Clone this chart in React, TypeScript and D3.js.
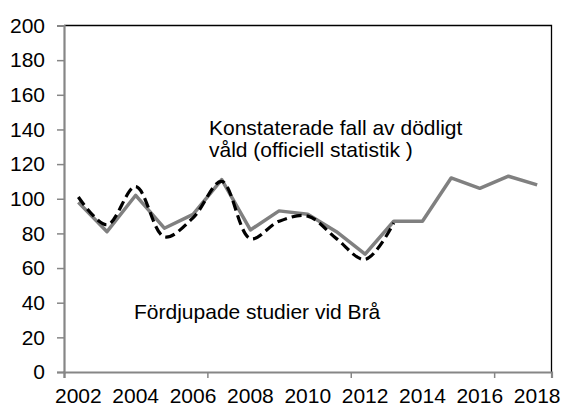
import * as React from 'react';
import * as d3 from 'd3';

const years = ['2002', '2003', '2004', '2005', '2006', '2007', '2008', '2009', '2010',
    '2011', '2012', '2013', '2014', '2015', '2016', '2017', '2018'];
const official = [98, 81, 102, 83, 91, 111, 82, 93, 91, 81, 68, 87, 87, 112, 106, 113, 108];
const bra = [101, 85, 107, 78, 89, 110, 77, 87, 90, 77, 65, 86];
const yTicks = [0, 20, 40, 60, 80, 100, 120, 140, 160, 180, 200];
const officialLabel = ['Konstaterade fall av dödligt', 'våld (officiell statistik )'];
const braLabel = 'Fördjupade studier vid Brå';

const WIDTH = 563, HEIGHT = 406;
const MARGINS = { top: 25.5, right: 11.5, bottom: 34, left: 64 };
const FONT = '"Liberation Sans", Arial, sans-serif';

export default function App() {
    const ref = React.useRef<SVGSVGElement>(null);

    React.useEffect(() => {
        const vis = d3.select(ref.current);
        vis.selectAll('*').remove();

        const xScale = d3.scaleBand().domain(years).range([MARGINS.left, WIDTH - MARGINS.right]);
        const yScale = d3.scaleLinear().domain([0, 200]).range([HEIGHT - MARGINS.bottom, MARGINS.top]);
        const cx = (i: number) => xScale(years[i])! + xScale.bandwidth() / 2;

        // frame top + right
        vis.append('path')
            .attr('d', `M${MARGINS.left},${MARGINS.top}H${WIDTH - MARGINS.right}V${HEIGHT - MARGINS.bottom}`)
            .attr('fill', 'none').attr('stroke', '#000').attr('stroke-width', 1.3);

        // y axis
        const yAxis = d3.axisLeft(yScale).tickValues(yTicks).tickSize(7).tickPadding(12);
        const gy = vis.append('g')
            .attr('transform', 'translate(' + MARGINS.left + ',0)')
            .call(yAxis);
        gy.select('.domain').attr('stroke', '#868686').attr('stroke-width', 2.2);
        gy.selectAll('.tick line').attr('stroke', '#868686').attr('stroke-width', 1.5);
        gy.selectAll('.tick text')
            .attr('font-family', FONT).attr('font-size', 21).attr('fill', '#000');

        // x axis: tick marks every 5 categories on band edges, labels every 2
        const edge = d3.scaleLinear().domain([0, years.length]).range(xScale.range());
        const xAxis = d3.axisBottom(edge).tickValues([0, 5, 10, 15]).tickSize(6).tickFormat(() => '');
        const gx = vis.append('g')
            .attr('transform', 'translate(0,' + (HEIGHT - MARGINS.bottom) + ')')
            .call(xAxis);
        gx.select('.domain').attr('stroke', '#868686').attr('stroke-width', 2.2);
        gx.selectAll('.tick line').attr('stroke', '#868686').attr('stroke-width', 1.5);

        vis.append('g').selectAll('text')
            .data(years.filter((d, i) => i % 2 === 0))
            .enter().append('text')
            .attr('x', (d) => xScale(d)! + xScale.bandwidth() / 2)
            .attr('y', 402.5)
            .attr('text-anchor', 'middle')
            .attr('font-family', FONT).attr('font-size', 21)
            .text((d) => d);

        // lines
        const solidLine = d3.line<number>()
            .x((d, i) => cx(i))
            .y((d) => yScale(d));
        const smoothLine = d3.line<number>().curve(d3.curveCatmullRom.alpha(0.5))
            .x((d, i) => cx(i))
            .y((d) => yScale(d));

        vis.append('path')
            .attr('d', solidLine(official))
            .attr('fill', 'none').attr('stroke', '#808080').attr('stroke-width', 3.5)
            .attr('stroke-linejoin', 'round');
        vis.append('path')
            .attr('d', smoothLine(bra))
            .attr('fill', 'none').attr('stroke', '#000').attr('stroke-width', 3.2)
            .attr('stroke-dasharray', '10,5');

        // annotations
        const ann = vis.append('text')
            .attr('font-family', FONT).attr('font-size', 21).attr('fill', '#000');
        officialLabel.forEach((t, i) => {
            ann.append('tspan').attr('x', 209).attr('y', 135 + i * 21.5).text(t);
        });
        vis.append('text')
            .attr('x', 134).attr('y', 319)
            .attr('font-family', FONT).attr('font-size', 21)
            .text(braLabel);
    }, []);

    return (
        <svg ref={ref} width={WIDTH} height={HEIGHT}
            style={{ position: 'absolute', left: 0, top: 0, background: '#fff' }} />
    );
}
